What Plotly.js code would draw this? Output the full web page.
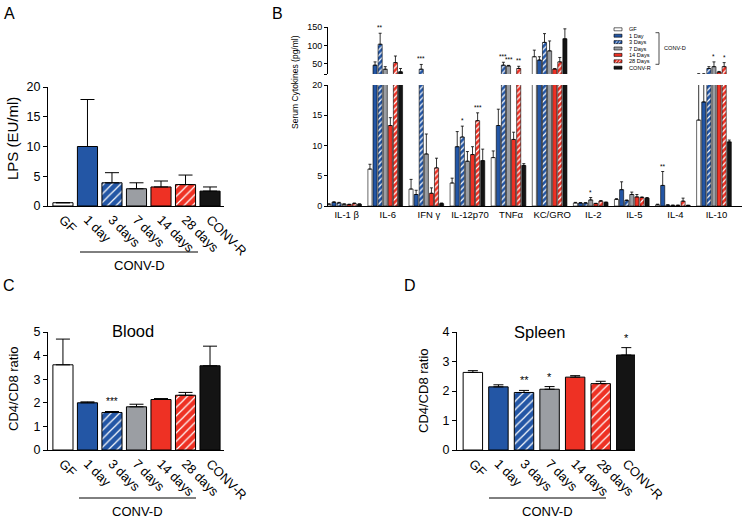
<!DOCTYPE html>
<html><head><meta charset="utf-8">
<script src="https://cdn.plot.ly/plotly-3.0.1.min.js"></script>
<style>html,body{margin:0;padding:0;background:#fff}#chart{width:743px;height:520px}</style>
</head><body><div id="chart"></div>
<script>
// ---------- data ----------
const groups = ['GF', '1 day', '3 days', '7 days', '14 days', '28 days', 'CONV-R'];
const groupColors = ['#ffffff', '#2356a5', '#2356a5', '#9b9ea3', '#ee3124', '#ee3124', '#141414'];
const groupHatch = ['', '', '/', '', '', '/', ''];

// Panel A: LPS (EU/ml)
const lpsMean = [0.55, 10.0, 3.9, 2.9, 3.2, 3.6, 2.5];
const lpsSem  = [0, 7.9, 1.7, 1.0, 1.0, 1.6, 0.7];

// Panel C: Blood CD4/CD8
const bloodMean  = [3.61, 2.0, 1.59, 1.83, 2.14, 2.32, 3.57];
const bloodSem   = [1.09, 0.04, 0.04, 0.11, 0.04, 0.12, 0.83];
const bloodStars = ['', '', '***', '', '', '', ''];

// Panel D: Spleen CD4/CD8
const spleenMean  = [2.63, 2.14, 1.95, 2.06, 2.47, 2.25, 3.22];
const spleenSem   = [0.06, 0.07, 0.07, 0.09, 0.05, 0.08, 0.25];
const spleenStars = ['', '', '**', '*', '', '', '*'];

// Panel B: serum cytokines (pg/ml)
const cytokines  = ['IL-1 β', 'IL-6', 'IFN γ', 'IL-12p70', 'TNFα', 'KC/GRO', 'IL-2', 'IL-5', 'IL-4', 'IL-10'];
const cytoSeries = ['GF', '1 Day', '3 Days', '7 Days', '14 Days', '28 Days', 'CONV-R'];
const cytoGF      = [0.3, 6.1, 2.8, 3.8, 8.0, 69, 0.5, 1.1, 0.2, 14.2];
const cytoGFErr   = [0.05, 0.8, 1.6, 0.8, 1.1, 18, 0.1, 0.1, 0.1, 8.8];
const cyto1d      = [0.6, 46, 1.9, 9.8, 13.3, 60, 0.5, 2.7, 3.4, 17.2];
const cyto1dErr   = [0.1, 9, 0.7, 2.5, 2.7, 9, 0.05, 1.3, 2.3, 5.8];
const cyto3d      = [0.5, 103, 35, 11.4, 46, 108, 0.5, 0.9, 0.15, 37];
const cyto3dErr   = [0.1, 30, 13, 1.8, 8, 24, 0.05, 0.1, 0.05, 5];
const cyto7d      = [0.3, 35, 8.6, 7.4, 44, 85, 1.0, 1.9, 0.1, 42];
const cyto7dErr   = [0.05, 7, 3.3, 1.6, 1.5, 27, 0.4, 0.4, 0.05, 13];
const cyto14d     = [0.25, 13.3, 2.1, 8.5, 11.0, 35.6, 0.4, 1.5, 0.1, 27];
const cyto14dErr  = [0.05, 1.3, 0.9, 1.3, 1.2, 1, 0.05, 0.4, 0.05, 2];
const cyto28d     = [0.4, 53, 6.3, 14.1, 37, 55, 0.8, 1.4, 0.8, 42];
const cyto28dErr  = [0.1, 18, 1.6, 1.3, 6, 12, 0.1, 0.1, 0.5, 11];
const cytoConvR   = [0.3, 28, 0.4, 7.5, 6.7, 118, 0.6, 1.3, 0.1, 10.6];
const cytoConvRErr= [0.05, 9, 0.1, 1.9, 0.3, 27, 0.05, 0.1, 0.02, 0.3];
const cytoStars = [
  ['IL-6', '3 Days', '**'], ['IFN γ', '3 Days', '***'], ['IL-12p70', '3 Days', '*'],
  ['IL-12p70', '28 Days', '***'], ['TNFα', '3 Days', '***'], ['TNFα', '7 Days', '***'],
  ['TNFα', '28 Days', '**'], ['IL-2', '7 Days', '*'], ['IL-4', '1 Day', '**'],
  ['IL-10', '7 Days', '*'], ['IL-10', '28 Days', '*']
];

// ---------- helpers ----------
const FONT = '"Liberation Sans", Arial, Helvetica, sans-serif';
const W = 743, H = 520;
const px = v => v / W;
const py = v => 1 - v / H;
const cytoMeans = [cytoGF, cyto1d, cyto3d, cyto7d, cyto14d, cyto28d, cytoConvR];
const cytoErrs = [cytoGFErr, cyto1dErr, cyto3dErr, cyto7dErr, cyto14dErr, cyto28dErr, cytoConvRErr];

function axis(extra) {
  return Object.assign({
    showline: true, linecolor: '#000', linewidth: 1, showgrid: false, zeroline: false,
    ticks: 'outside', ticklen: 4, tickwidth: 1, tickcolor: '#000', fixedrange: true,
    tickfont: {family: FONT, size: 12.5, color: '#000'}
  }, extra);
}

function simpleBars(mean, sem, xa, ya, capW, bw) {
  return {
    type: 'bar', x: groups, y: mean, xaxis: xa, yaxis: ya, width: bw,
    marker: {color: groupColors, line: {color: '#000', width: 1},
      pattern: {shape: groupHatch, fillmode: 'overlay', fgcolor: '#ffffff', fgopacity: 1, size: 6, solidity: 0.2}},
    error_y: {type: 'data', symmetric: false, array: sem, arrayminus: sem.map(() => 0),
      color: '#000', thickness: 1, width: capW},
    showlegend: false, hoverinfo: 'skip'
  };
}

const traces = [];
traces.push(simpleBars(lpsMean, lpsSem, 'x', 'y', 7, 0.82));
traces.push(simpleBars(bloodMean, bloodSem, 'x4', 'y4', 7, 0.82));
traces.push(simpleBars(spleenMean, spleenSem, 'x5', 'y5', 5, 0.76));

const slot = 0.124, bw = 0.1;
const hatchB = ['', '', '/', '', '', '/', ''];
const colorB = ['#ffffff', '#2356a5', '#2356a5', '#9b9ea3', '#ee3124', '#ee3124', '#141414'];
cytoSeries.forEach((name, s) => {
  [['x2', 'y2'], ['x3', 'y3']].forEach(([xa, ya]) => {
    traces.push({
      type: 'bar', name: name, x: cytokines, y: cytoMeans[s], xaxis: xa, yaxis: ya,
      width: bw, offset: -3.5 * slot + s * slot - bw / 2,
      marker: {color: colorB[s], line: {color: '#000', width: 0.6},
        pattern: {shape: hatchB[s], fillmode: 'overlay', fgcolor: '#ffffff', fgopacity: 1, size: 4, solidity: 0.3}},
      error_y: {type: 'data', symmetric: false, array: cytoErrs[s], arrayminus: cytoErrs[s].map(() => 0),
        color: '#000', thickness: 0.8, width: 1.5},
      showlegend: false, hoverinfo: 'skip'
    });
  });
});

// ---------- annotations & shapes ----------
const ann = [];
const shapes = [];
function text(x, y, t, size, opts) {
  ann.push(Object.assign({xref: 'paper', yref: 'paper', x: px(x), y: py(y), text: t, showarrow: false,
    font: {family: FONT, size: size, color: '#000'}, xanchor: 'center', yanchor: 'middle'}, opts || {}));
}
function line(x0, y0, x1, y1, color, w) {
  shapes.push({type: 'line', xref: 'paper', yref: 'paper', x0: px(x0), y0: py(y0), x1: px(x1), y1: py(y1),
    line: {color: color || '#000', width: w || 1}});
}
// panel letters
text(9, 13, 'A', 16); text(277, 13, 'B', 16); text(9, 285, 'C', 16); text(410, 285, 'D', 16);
// y titles
text(13, 139, 'LPS (EU/ml)', 15, {textangle: -90});
text(295, 82, 'Serum Cytokines (pg/ml)', 8.5, {textangle: -90});
text(13, 389, 'CD4/CD8 ratio', 13, {textangle: -90});
text(423, 391, 'CD4/CD8 ratio', 13, {textangle: -90});
// panel titles
text(133, 331, 'Blood', 16.5); text(539, 332, 'Spleen', 16.5);
// CONV-D brackets
line(80, 252, 198, 252); text(139, 265, 'CONV-D', 13);
line(79, 498, 196, 498); text(137, 511, 'CONV-D', 13);
line(489, 498, 606, 498); text(547, 511, 'CONV-D', 13);

// stars on C and D
bloodStars.forEach((s, i) => { if (s) ann.push({xref: 'x4', yref: 'y4', x: i, y: bloodMean[i] + bloodSem[i], text: s,
  showarrow: false, yanchor: 'bottom', yshift: 3, font: {family: FONT, size: 10, color: '#000'}}); });
spleenStars.forEach((s, i) => { if (s) ann.push({xref: 'x5', yref: 'y5', x: i, y: spleenMean[i] + spleenSem[i], text: s,
  showarrow: false, yanchor: 'bottom', yshift: 2, font: {family: FONT, size: 11, color: '#000'}}); });
// stars on B
cytoStars.forEach(([c, sName, t]) => {
  const ci = cytokines.indexOf(c), s = cytoSeries.indexOf(sName);
  const top = cytoMeans[s][ci] + cytoErrs[s][ci];
  ann.push({xref: 'x2', yref: top > 20 ? 'y3' : 'y2', x: ci - 3.5 * slot + s * slot, y: top, text: t,
    showarrow: false, yanchor: 'bottom', yshift: 0, font: {family: FONT, size: 6.5, color: '#000'}});
});

// legend for B (drawn as shapes + text)
const lx0 = 614, lx1 = 622, ly0 = 29.3, ldy = 6.4;
cytoSeries.forEach((name, s) => {
  const yc = ly0 + s * ldy;
  shapes.push({type: 'rect', xref: 'paper', yref: 'paper', x0: px(lx0), x1: px(lx1), y0: py(yc + 1.5), y1: py(yc - 1.5),
    fillcolor: colorB[s], line: {color: '#000', width: 0.6}});
  if (hatchB[s]) {
    line(lx0 + 1.5, yc + 1.4, lx0 + 3.5, yc - 1.4, '#fff', 0.7);
    line(lx0 + 4.5, yc + 1.4, lx0 + 6.5, yc - 1.4, '#fff', 0.7);
  }
  text(626.5, yc, name, 5.6, {xanchor: 'left'});
});
line(655.5, 32.7, 659, 32.7, '#000', 0.7);
line(659, 32.7, 659, 64.3, '#000', 0.7);
line(655.5, 64.3, 659, 64.3, '#000', 0.7);
text(662, 48.3, 'CONV-D', 5.6, {xanchor: 'left'});

// ---------- layout ----------
const catRange = [-0.61, 6.57];
const layout = {
  width: W, height: H, margin: {l: 0, r: 0, t: 0, b: 0},
  paper_bgcolor: '#fff', plot_bgcolor: 'rgba(0,0,0,0)',
  barmode: 'overlay', showlegend: false,
  font: {family: FONT, color: '#000'},
  xaxis: axis({domain: [px(48), px(224)], range: catRange, anchor: 'y', ticks: '', tickangle: 45,
    tickfont: {family: FONT, size: 13, color: '#000'}}),
  yaxis: axis({domain: [py(206), py(87)], range: [0, 20], anchor: 'x', tickvals: [0, 5, 10, 15, 20]}),
  xaxis2: axis({domain: [px(328), px(742)], range: [-0.455, 9.62], anchor: 'y2', ticks: '', tickangle: 0,
    tickfont: {family: FONT, size: 9.5, color: '#000'}}),
  yaxis2: axis({domain: [py(206), py(85)], range: [0, 20], anchor: 'x2', tickvals: [0, 5, 10, 15, 20],
    ticklen: 3, tickfont: {family: FONT, size: 9, color: '#000'}}),
  xaxis3: {domain: [px(328), px(742)], range: [-0.455, 9.62], anchor: 'y3', visible: false, fixedrange: true},
  yaxis3: axis({domain: [py(74), py(27)], range: [22, 150], anchor: 'x3', tickvals: [22, 50, 100, 150],
    ticktext: ['', '50', '100', '150'], ticklen: 3, tickfont: {family: FONT, size: 9, color: '#000'}}),
  xaxis4: axis({domain: [px(48), px(224)], range: catRange, anchor: 'y4', ticks: '', tickangle: 45,
    tickfont: {family: FONT, size: 13, color: '#000'}}),
  yaxis4: axis({domain: [py(450), py(332)], range: [0, 5], anchor: 'x4', dtick: 1}),
  xaxis5: axis({domain: [px(457), px(635)], range: [-0.62, 6.34], anchor: 'y5', ticks: '', tickangle: 45,
    tickfont: {family: FONT, size: 13, color: '#000'}}),
  yaxis5: axis({domain: [py(450), py(332)], range: [0, 4], anchor: 'x5', dtick: 1}),
  annotations: ann, shapes: shapes
};

Plotly.newPlot('chart', traces, layout, {staticPlot: true, displayModeBar: false});
</script>
</body></html>
